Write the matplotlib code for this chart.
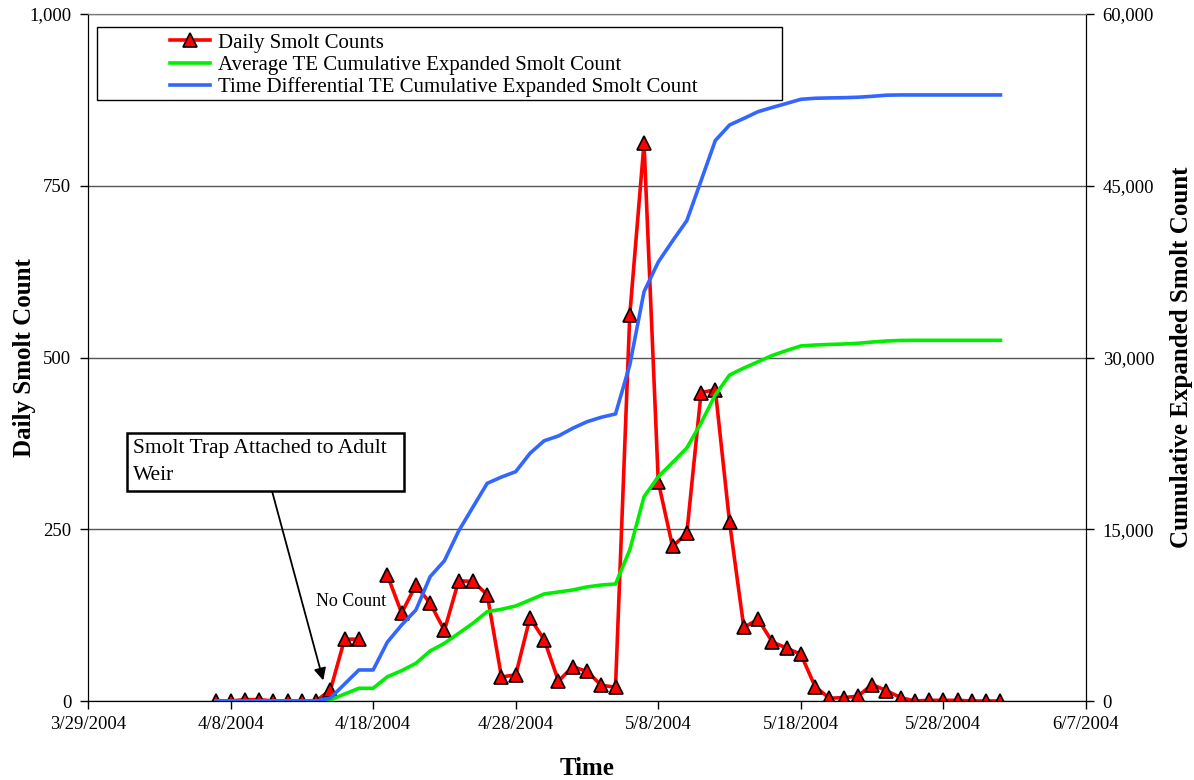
import datetime as dt
import numpy as np
import matplotlib
matplotlib.use("Agg")
import matplotlib.pyplot as plt
import matplotlib.dates as mdates
from matplotlib.patches import Rectangle
from matplotlib.ticker import FuncFormatter, MultipleLocator

plt.rcParams['font.family'] = ['Liberation Serif', 'DejaVu Serif']

# daily values 4/7/2004 .. 6/1/2004 (4/18 = no count)
start = dt.date(2004, 4, 7)
daily = [0, 0, 2, 2, 0, 0, 0, 0, 16, 90, 90, np.nan, 183, 128, 169, 142, 103, 175, 174, 155,
         35, 38, 121, 89,
         29, 50, 43, 23, 20, 562, 812, 319, 225, 244, 449, 453, 260, 107, 119, 86, 77, 68,
         21, 4, 5, 7, 24, 15, 5, 0, 1, 1, 1, 0, 0, 0]
avg_te = [0, 0, 0, 0, 0, 0, 0, 0, 90, 610, 1110, 1110, 2120, 2650, 3290, 4370, 5040, 5910,
          6790, 7800, 8010, 8300, 8820, 9350,
          9520, 9700, 9960, 10130, 10220, 13190, 17840, 19590, 20830, 22100, 24280, 26730,
          28470, 29080, 29630, 30180, 30610, 31010, 31090, 31140, 31180, 31240, 31350,
          31440, 31490, 31500, 31500, 31500, 31500, 31500, 31500, 31500]
time_diff_te = [0, 0, 0, 0, 0, 0, 0, 0, 260, 1485, 2710, 2710, 5150, 6640, 7950, 10860,
                12250, 14850, 16940, 19010, 19560, 20030, 21630, 22730,
                23150, 23820, 24390, 24780, 25070, 29350, 35750, 38340, 40180, 41950, 45440,
                48950, 50310, 50880, 51470, 51840, 52190, 52550, 52640, 52670, 52690, 52730,
                52810, 52910, 52930, 52930, 52930, 52930, 52930, 52930, 52930, 52930]
dates = [start + dt.timedelta(days=i) for i in range(len(daily))]

W, H = 1194, 780
fig = plt.figure(figsize=(W / 100, H / 100), dpi=100)
ax = fig.add_axes([88 / W, 1 - 701 / H, 998 / W, 687 / H])
ax2 = ax.twinx()

l_red, = ax.plot(dates, daily, color='#ff0000', lw=2.6, marker='^', markersize=10,
                 markerfacecolor='#ff0000', markeredgecolor='black', markeredgewidth=1.2)
l_green, = ax2.plot(dates, avg_te, color='#00ee00', lw=2.6)
l_blue, = ax2.plot(dates, time_diff_te, color='#3366ff', lw=2.6)

ax.set_xlim(dt.date(2004, 3, 29), dt.date(2004, 6, 7))
ax.set_ylim(0, 1000)
ax2.set_ylim(0, 60000)

ticks = [mdates.date2num(dt.date(2004, 3, 29) + dt.timedelta(days=10 * i)) for i in range(8)]
ax.set_xticks(ticks)
ax.xaxis.set_major_formatter(FuncFormatter(
    lambda v, p: "{d.month}/{d.day}/{d.year}".format(d=mdates.num2date(v))))
ax.yaxis.set_major_locator(MultipleLocator(250))
ax2.yaxis.set_major_locator(MultipleLocator(15000))
ax.yaxis.set_major_formatter(FuncFormatter(lambda v, p: f"{int(v):,}"))
ax2.yaxis.set_major_formatter(FuncFormatter(lambda v, p: f"{int(v):,}"))

for a in (ax, ax2):
    a.tick_params(axis='both', direction='out', length=6, width=1, labelsize=13.5, pad=6)
    a.spines['top'].set_color('#777777')
ax.tick_params(axis='x', pad=5)
ax.yaxis.grid(True, color='#555555', lw=1)
ax.set_axisbelow(True)

ax.set_xlabel('Time', fontsize=18, fontweight='bold')
ax.xaxis.set_label_coords(0.5, -0.082)
ax.set_ylabel('Daily Smolt Count', fontsize=18, fontweight='bold')
ax.yaxis.set_label_coords(-0.052, 0.5)
ax2.set_ylabel('Cumulative Expanded Smolt Count', fontsize=18, fontweight='bold')
ax2.yaxis.set_label_coords(1.084, 0.5)

# legend box (wider than its entries, as in the original)
fig.add_artist(Rectangle((97 / W, 1 - 100 / H), 685 / W, 73 / H, transform=fig.transFigure,
                         fill=False, ec='black', lw=1, zorder=5))
leg = ax2.legend([l_red, l_green, l_blue],
                 ['Daily Smolt Counts', 'Average TE Cumulative Expanded Smolt Count',
                  'Time Differential TE Cumulative Expanded Smolt Count'],
                 loc='upper left', bbox_to_anchor=(170 / W, 1 - 33 / H),
                 bbox_transform=fig.transFigure, fontsize=15, frameon=False,
                 handlelength=1.9, borderpad=0, labelspacing=0.13, borderaxespad=0,
                 handletextpad=0.4)

# annotation text box + arrow
fig.add_artist(Rectangle((127 / W, 1 - 491 / H), 277 / W, 58 / H, transform=fig.transFigure,
                         fc='white', ec='black', lw=1.8, zorder=5))
fig.text(133 / W, 1 - 439 / H, 'Smolt Trap Attached to Adult\nWeir', fontsize=15.5,
         ha='left', va='top', linespacing=1.55, zorder=6)
ax.annotate('', xy=(dt.datetime(2004, 4, 14, 12), 30),
            xytext=(272, H - 491), textcoords='figure pixels',
            arrowprops=dict(arrowstyle='-|>', color='black', lw=1.3, shrinkA=0, shrinkB=0,
                            mutation_scale=18))
ax.text(dt.datetime(2004, 4, 16, 10), 145, 'No Count', fontsize=13, ha='center', va='center')

fig.savefig('out.png', dpi=100)
